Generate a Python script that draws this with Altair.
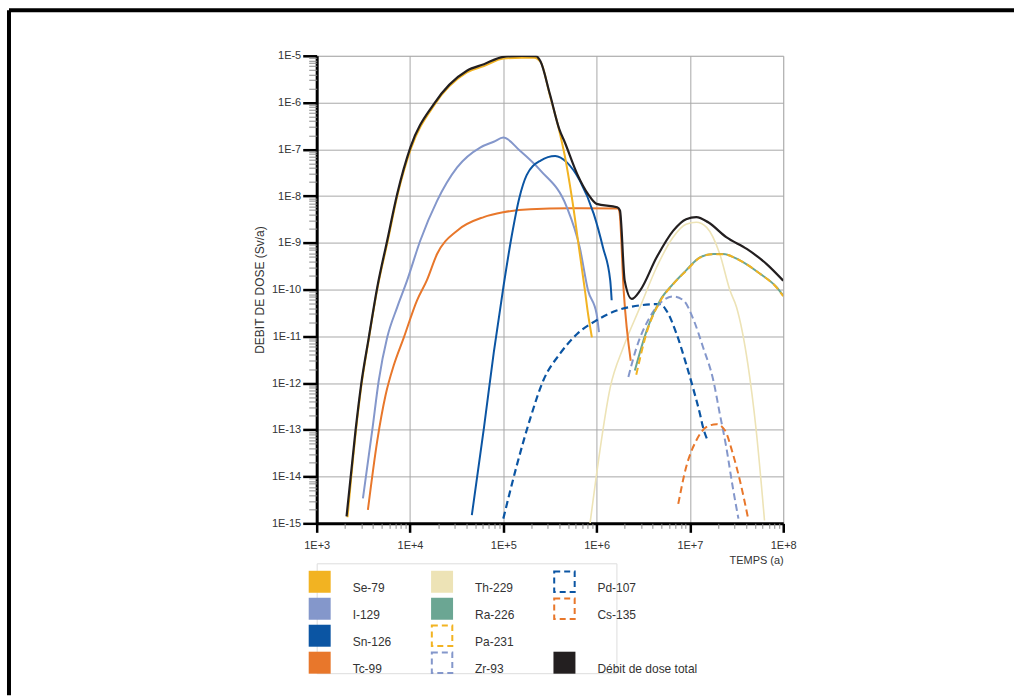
import altair as alt
import pandas as pd

# ---------------- data: time (a) / dose rate (Sv/a) ----------------
TOTAL_T = [2.09e3, 2.61e3, 3.0e3, 3.62e3, 4.46e3, 5.7e3, 7.3e3, 1.01e4, 1.8e4, 4.07e4, 6.2e4,
           1.0e5, 1.58e5, 2.24e5, 2.5e5, 3.16e5, 3.98e5, 4.57e5, 6.2e5, 8.1e5, 1.0e6, 1.66e6,
           1.78e6, 2.0e6, 2.38e6, 2.92e6, 4.4e6, 6.6e6, 9.1e6, 1.17e7, 1.57e7, 2.45e7, 4.07e7,
           6.6e7, 1.0e8]
TOTAL_D = [1.41e-15, 9.8e-14, 9.5e-13, 9.5e-12, 1.12e-10, 1.12e-9, 1.12e-8, 1.1e-7, 9.3e-7,
           4.8e-6, 6.6e-6, 9.5e-6, 1.0e-5, 9.8e-6, 7.6e-6, 1.5e-6, 2.7e-7, 1.4e-7, 2.95e-8,
           1.1e-8, 6.8e-9, 5.75e-9, 4.9e-9, 1.55e-10, 6.3e-11, 9.5e-11, 4.9e-10, 1.8e-9, 3.2e-9,
           3.55e-9, 2.75e-9, 1.32e-9, 7.4e-10, 3.55e-10, 1.55e-10]

SE79_T = [2.14e3, 2.63e3, 3.02e3, 3.63e3, 4.47e3, 5.75e3, 7.35e3, 1.02e4, 1.81e4, 4.07e4, 6.2e4,
          1.0e5, 1.58e5, 2.14e5, 2.51e5, 3.16e5, 3.98e5, 4.57e5, 5.43e5, 6.6e5, 7.5e5, 8.1e5, 8.9e5]
SE79_D = [1.35e-15, 9.3e-14, 9.1e-13, 9.1e-12, 1.05e-10, 1.05e-9, 1.05e-8, 1.02e-7, 8.7e-7, 4.4e-6,
          6.0e-6, 8.7e-6, 9.1e-6, 9.1e-6, 7.4e-6, 1.41e-6, 2.5e-7, 7.1e-8, 9.3e-9, 5.9e-10,
          9.5e-11, 3.0e-11, 9.5e-12]

I129_T = [3.13e3, 3.94e3, 4.63e3, 5.7e3, 7.3e3, 9.3e3, 1.29e4, 1.95e4, 3.2e4, 5.7e4, 7.9e4, 1.0e5,
          1.51e5, 2.51e5, 4.8e5, 6.6e5, 8.1e5, 1.0e6, 1.06e6]
I129_D = [3.4e-15, 9.8e-14, 1.15e-12, 9.5e-12, 4.2e-11, 1.55e-10, 1.12e-9, 7.9e-9, 4.1e-8, 1.1e-7,
          1.45e-7, 1.78e-7, 9.3e-8, 3.5e-8, 5.75e-9, 7.9e-10, 9.5e-11, 3.0e-11, 1.23e-11]

SN126_T = [4.6e4, 6.2e4, 7.9e4, 1.0e5, 1.23e5, 1.48e5, 1.78e5, 2.51e5, 3.6e5, 4.8e5, 6.6e5, 9.3e5,
           1.17e6, 1.4e6, 1.45e6]
SN126_D = [1.5e-15, 1.1e-13, 4.5e-12, 1.1e-10, 1.4e-9, 8.9e-9, 2.8e-8, 5.75e-8, 7.2e-8, 5.25e-8,
           2.14e-8, 4.2e-9, 7.9e-10, 1.55e-10, 5.9e-11]

TC99_T = [3.54e3, 4.46e3, 5.47e3, 6.7e3, 8.6e3, 1.19e4, 1.51e4, 1.95e4, 3.2e4, 6.17e4, 1.0e5,
          1.95e5, 5.0e5, 1.7e6, 1.76e6, 1.95e6, 2.32e6]
TC99_D = [1.95e-15, 5.9e-14, 5.5e-13, 2.4e-12, 9.5e-12, 5.9e-11, 1.55e-10, 5.75e-10, 1.82e-9,
          3.55e-9, 4.5e-9, 5.25e-9, 5.5e-9, 5.4e-9, 4.5e-9, 9.5e-11, 3.0e-12]

TH229_T = [8.5e5, 1.0e6, 1.4e6, 1.94e6, 2.92e6, 4.4e6, 6.6e6, 9.1e6, 1.17e7, 1.51e7, 2.09e7,
           2.69e7, 3.16e7, 4.17e7, 5.13e7, 6.3e7]
TH229_D = [1.0e-15, 1.15e-14, 8.1e-13, 5.9e-12, 4.2e-11, 3.0e-10, 1.32e-9, 2.5e-9, 2.75e-9,
           2.14e-9, 5.75e-10, 9.5e-11, 4.2e-11, 2.6e-12, 9.8e-14, 1.15e-15]

RA226_T = [2.57e6, 3.44e6, 4.8e6, 6.6e6, 9.1e6, 1.28e7, 1.78e7, 2.27e7, 3.43e7, 5.6e7, 8.5e7, 1.0e8]
RA226_D = [1.86e-12, 1.32e-11, 5.9e-11, 1.32e-10, 2.57e-10, 4.9e-10, 5.75e-10, 5.75e-10, 4.2e-10,
           2.2e-10, 1.12e-10, 7.4e-11]

PA231_T = [2.66e6, 3.44e6, 4.8e6, 6.6e6, 9.1e6, 1.28e7, 1.78e7, 2.27e7, 3.43e7, 5.6e7, 8.5e7, 1.0e8]
PA231_D = [1.5e-12, 1.2e-11, 5.6e-11, 1.3e-10, 2.5e-10, 4.8e-10, 5.7e-10, 5.7e-10, 4.2e-10,
           2.2e-10, 1.1e-10, 7.2e-11]

ZR93_T = [2.19e6, 2.69e6, 3.72e6, 5.2e6, 6.6e6, 8.5e6, 1.1e7, 1.38e7, 1.78e7, 2.09e7, 2.45e7,
          2.88e7, 3.31e7]
ZR93_D = [1.35e-12, 5.9e-12, 2.57e-11, 5.9e-11, 7.1e-11, 5.9e-11, 2.2e-11, 5.9e-12, 1.15e-12,
          2.2e-13, 4.3e-14, 5.9e-15, 1.26e-15]

PD107_T = [1.0e5, 1.4e5, 1.95e5, 2.69e5, 4.07e5, 6.17e5, 1.0e6, 1.64e6, 2.92e6, 4.8e6, 5.6e6,
           7.2e6, 9.1e6, 1.1e7, 1.28e7, 1.38e7, 1.57e7]
PD107_D = [1.26e-15, 1.78e-14, 1.78e-13, 1.15e-12, 4.3e-12, 1.12e-11, 2.2e-11, 3.55e-11, 4.6e-11,
           4.9e-11, 3.55e-11, 1.12e-11, 2.57e-12, 6.9e-13, 2.2e-13, 1.15e-13, 5.5e-14]

CS135_T = [7.5e6, 9.1e6, 1.17e7, 1.51e7, 1.93e7, 2.37e7, 2.88e7, 3.43e7, 4.17e7]
CS135_D = [2.6e-15, 1.58e-14, 5.9e-14, 1.15e-13, 1.32e-13, 9.8e-14, 3.1e-14, 8.3e-15, 1.38e-15]

X_TICKS = [1e3, 1e4, 1e5, 1e6, 1e7, 1e8]
Y_TICKS = [1e-15, 1e-14, 1e-13, 1e-12, 1e-11, 1e-10, 1e-9, 1e-8, 1e-7, 1e-6, 1e-5]

NAMES = ["Se-79", "I-129", "Sn-126", "Tc-99", "Th-229", "Ra-226", "Pa-231", "Zr-93",
         "Pd-107", "Cs-135", "Débit de dose total"]
COLORS = ["#F2B322", "#8497CB", "#0B55A3", "#E8772B", "#EDE3B6", "#6BA693", "#F2B322", "#8497CB",
          "#0B55A3", "#E8772B", "#231F20"]
DASHED = [False, False, False, False, False, False, True, True, True, True, False]
# legend slots (3 columns x 4 rows, None = empty slot)
LEGEND_SLOTS = ["Se-79", "I-129", "Sn-126", "Tc-99", "Th-229", "Ra-226", "Pa-231", "Zr-93",
                "Pd-107", "Cs-135", None, "Débit de dose total"]

FONT = "Liberation Sans"
TXT = "#333333"

SERIES = {
    "Th-229": (TH229_T, TH229_D),
    "Tc-99": (TC99_T, TC99_D),
    "I-129": (I129_T, I129_D),
    "Sn-126": (SN126_T, SN126_D),
    "Pd-107": (PD107_T, PD107_D),
    "Zr-93": (ZR93_T, ZR93_D),
    "Cs-135": (CS135_T, CS135_D),
    "Ra-226": (RA226_T, RA226_D),
    "Pa-231": (PA231_T, PA231_D),
    "Se-79": (SE79_T, SE79_D),
    "Débit de dose total": (TOTAL_T, TOTAL_D),
}
WIDTHS = {"Th-229": 1.6, "Débit de dose total": 2.2, "Pd-107": 2.2}

xscale = alt.Scale(type="log", domain=[1e3, 1e8], nice=False)
yscale = alt.Scale(type="log", domain=[1e-15, 1e-5], nice=False)

x_minor = [m * 10 ** k for k in range(3, 8) for m in range(2, 10)]
y_minor = [m * 10.0 ** k for k in range(-15, -5) for m in range(2, 10)]

x_major_axis = alt.Axis(
    orient="bottom", values=X_TICKS,
    labelExpr="'1E+' + round(log(datum.value) / LN10)",
    grid=True, gridColor="#a8a8a8", gridWidth=1,
    domainColor="black", domainWidth=3, tickColor="black", tickWidth=2.5, tickSize=9,
    labelFont=FONT, labelFontSize=11, labelColor=TXT, labelPadding=7,
    labelFlush=False, labelOverlap=False, labelBound=False,
    title="TEMPS (a)", titleAnchor="end", titleFont=FONT, titleFontSize=11,
    titleFontWeight="normal", titleColor=TXT, titlePadding=4,
)
y_major_axis = alt.Axis(
    orient="left", values=Y_TICKS,
    labelExpr="'1E' + round(log(datum.value) / LN10)",
    grid=True, gridColor="#a8a8a8", gridWidth=1,
    domainColor="black", domainWidth=3, tickColor="black", tickWidth=2.5, tickSize=14,
    labelFont=FONT, labelFontSize=11, labelColor=TXT, labelPadding=2,
    labelOverlap=False, labelBound=False, labelFlush=False,
    title="DEBIT DE DOSE (Sv/a)", titleFont=FONT, titleFontSize=12,
    titleFontWeight="normal", titleColor=TXT, titlePadding=5,
)
x_minor_axis = alt.Axis(orient="bottom", values=x_minor, labels=False, grid=False, domain=False,
                        tickColor="#8c8c8c", tickWidth=1, tickSize=5, title=None)
y_minor_axis = alt.Axis(orient="left", values=y_minor, labels=False, grid=False, domain=False,
                        tickColor="#8c8c8c", tickWidth=1, tickSize=8, title=None)

color_of = dict(zip(NAMES, COLORS))
dash_of = dict(zip(NAMES, DASHED))

layers = []
for i, (name, (ts, ds)) in enumerate(SERIES.items()):
    df = pd.DataFrame({"t": ts, "dose": ds, "serie": name})
    if i == 0:
        xa, ya = x_major_axis, y_major_axis
    elif i == 1:
        xa, ya = x_minor_axis, y_minor_axis
    else:
        xa, ya = None, None
    mark_kw = dict(color=color_of[name], strokeWidth=WIDTHS.get(name, 2.0),
                   interpolate="monotone", clip=True)
    if dash_of[name]:
        mark_kw["strokeDash"] = [7, 4]
    layers.append(
        alt.Chart(df).mark_line(**mark_kw).encode(
            x=alt.X("t:Q", scale=xscale, axis=xa),
            y=alt.Y("dose:Q", scale=yscale, axis=ya),
            order=alt.Order("t:Q"),
        )
    )

# outer black frame of the figure
one = pd.DataFrame({"k": [0]})
frame_top = alt.Chart(one).mark_rule(color="black", strokeWidth=4).encode(
    x=alt.value(-308), x2=alt.value(698), y=alt.value(-45.5))
frame_left = alt.Chart(one).mark_rule(color="black", strokeWidth=4).encode(
    x=alt.value(-308), y=alt.value(-45.5), y2=alt.value(640))

plot = alt.layer(*layers, frame_top, frame_left).resolve_axis(
    x="independent", y="independent").properties(width=467, height=468)

# ---------------- legend ----------------
rows = []
for i, name in enumerate(LEGEND_SLOTS):
    if name is None:
        continue
    rows.append({"name": name, "col": i // 4, "row": i % 4, "dashed": dash_of[name]})
leg_df = pd.DataFrame(rows)
cscale = alt.Scale(domain=NAMES, range=COLORS)
lx = alt.X("col:Q", scale=alt.Scale(domain=[0, 2], range=[3, 248]), axis=None)
ly = alt.Y("row:Q", scale=alt.Scale(domain=[0, 3], range=[18.5, 99.5]), axis=None)
leg_base = alt.Chart(leg_df).encode(x=lx, y=ly)
leg_fill = leg_base.transform_filter("!datum.dashed").mark_square(
    size=484, filled=True, opacity=1).encode(color=alt.Color("name:N", scale=cscale, legend=None))
leg_dash = leg_base.transform_filter("datum.dashed").mark_square(
    size=420, filled=False, opacity=1, strokeWidth=2, strokeDash=[6, 4]).encode(
    stroke=alt.Stroke("name:N", scale=cscale, legend=None))
leg_text = leg_base.mark_text(align="left", dx=33, dy=6, font=FONT, fontSize=12,
                              color=TXT).encode(text="name:N")
legend = alt.layer(leg_fill, leg_dash, leg_text).properties(width=300, height=110)

chart = alt.vconcat(plot, legend, spacing=40, bounds="flush").properties(
    padding={"left": 6, "top": 7.5, "right": 0, "bottom": 0}
).configure_view(stroke=None).configure(background="white")

chart.save("out.html", embed_options={"renderer": "svg", "actions": False})
